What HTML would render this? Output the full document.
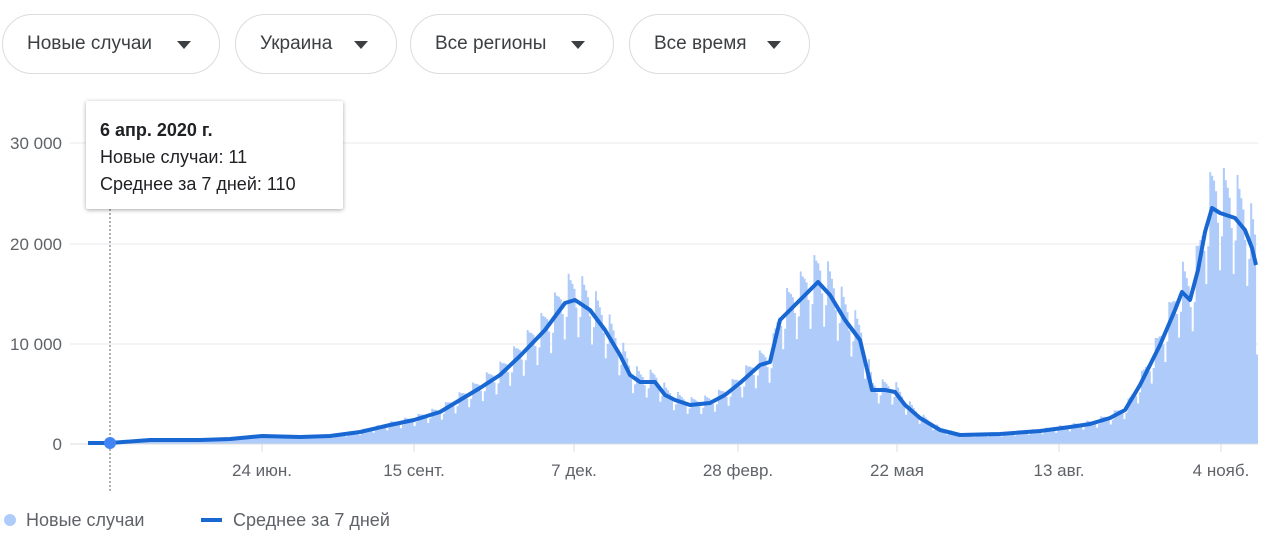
<!DOCTYPE html><html><head><meta charset="utf-8"><style>
body{margin:0;width:1280px;height:550px;background:#fff;font-family:"Liberation Sans",sans-serif;overflow:hidden;position:relative}
.chip{position:absolute;top:14px;height:60px;border:1px solid #dadce0;border-radius:31px;box-sizing:border-box;font-size:19px;color:#3c4043;line-height:58px;padding-left:24px}
.chip:after{content:"";position:absolute;right:28px;top:26px;border-left:7px solid transparent;border-right:7px solid transparent;border-top:8px solid #3c4043}
.tip{position:absolute;left:86px;top:101px;width:257px;height:108px;background:#fff;box-shadow:0 1px 4px rgba(0,0,0,.35);border-radius:2px;font-size:18px;color:#202124;box-sizing:border-box;padding:16px 0 0 14px;line-height:27px}
</style></head><body>
<div class="chip" style="left:2px;width:218px">Новые случаи</div>
<div class="chip" style="left:235px;width:162px">Украина</div>
<div class="chip" style="left:410px;width:204px">Все регионы</div>
<div class="chip" style="left:629px;width:181px">Все время</div>
<svg id="s" width="1280" height="550" style="position:absolute;left:0;top:0"></svg>
<div class="tip"><b>6 апр. 2020 г.</b><br>Новые случаи: 11<br>Среднее за 7 дней: 110</div>
<script>
var P=[[88,443],[110,443],[150,440],[200,440],[230,439],[262,436],[300,437],[330,436],[360,432],[390,425],[414,420],[440,412],[460,400],[480,388],[500,375],[520,356],[545,330],[565,303],[575,300],[590,310],[605,330],[620,355],[630,375],[640,382],[655,382],[665,395],[675,400],[690,405],[710,403],[725,395],[740,383],[760,365],[770,362],[780,320],[795,305],[810,290],[818,282],[830,295],[845,320],[860,340],[872,390],[885,390],[895,392],[905,405],[920,418],[940,430],[960,435],[1000,434],[1040,431],[1070,427],[1090,424],[1110,418],[1125,410],[1140,385],[1160,345],[1175,310],[1182,292],[1190,300],[1198,270],[1205,232],[1212,208],[1220,213],[1235,218],[1245,230],[1252,248],[1256,265]];
function f(x){for(var i=1;i<P.length;i++){if(x<=P[i][0]){var a=P[i-1],b=P[i];return a[1]+(b[1]-a[1])*(x-a[0])/(b[0]-a[0]);}}return 265;}
var h='';
var g=[['30 000',143],['20 000',244],['10 000',344],['0',444]];
g.forEach(function(t){if(t[1]<444)h+='<line x1="70" x2="1258" y1="'+t[1]+'" y2="'+t[1]+'" stroke="#e8eaed"/>';h+='<text x="62" y="'+(t[1]+6)+'" text-anchor="end" font-size="17" fill="#5f6368">'+t[0]+'</text>';});
var d='M88,444';
var w=[0.9,1.2,1.15,1.12,1.08,0.95,0.75];
for(var x=88,i=0;x<1258;x+=1.95,i++){var v=444-f(x);var k=x>1255?0.5:w[i%7];var y=444-v*k;d+='L'+x.toFixed(1)+','+y.toFixed(1)+'L'+(x+1.95).toFixed(1)+','+y.toFixed(1);}
d+='L1258,444Z';
h+='<path d="'+d+'" fill="#aecbfa"/>';
h+='<line x1="70" x2="1258" y1="444" y2="444" stroke="#dadce0"/>';
h+='<polyline points="'+P.map(function(p){return p.join(',')}).join(' ')+'" fill="none" stroke="#1967d2" stroke-width="4" stroke-linejoin="round"/>';
h+='<line x1="110" x2="110" y1="205" y2="492" stroke="#5f6368" stroke-dasharray="2,2"/>';
h+='<circle cx="110" cy="443" r="6" fill="#4285f4"/>';
[['24 июн.',262],['15 сент.',414],['7 дек.',574],['28 февр.',738],['22 мая',897],['13 авг.',1059],['4 нояб.',1221]].forEach(function(t){h+='<line x1="'+t[1]+'" x2="'+t[1]+'" y1="444" y2="452" stroke="#dadce0"/><text x="'+t[1]+'" y="476" text-anchor="middle" font-size="17" fill="#5f6368">'+t[0]+'</text>';});
h+='<circle cx="10" cy="520" r="6" fill="#aecbfa"/><text x="26" y="526" font-size="18" fill="#5f6368">Новые случаи</text>';
h+='<line x1="201" x2="222" y1="520" y2="520" stroke="#1967d2" stroke-width="4"/><text x="233" y="526" font-size="18" fill="#5f6368">Среднее за 7 дней</text>';
document.getElementById('s').innerHTML=h;
</script></body></html>
